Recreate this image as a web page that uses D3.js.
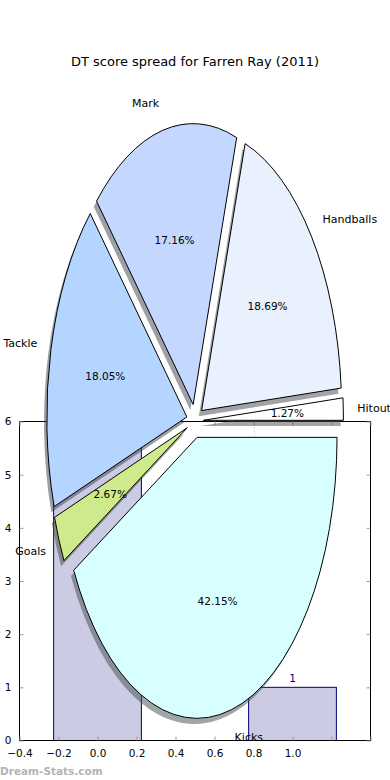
<!DOCTYPE html>
<html>
<head>
<meta charset="utf-8">
<script src="https://cdn.jsdelivr.net/npm/d3@7"></script>
<style>
  html, body { margin: 0; padding: 0; background: #fff; }
  svg { display: block; font-family: "DejaVu Sans", sans-serif; }
</style>
</head>
<body>
<svg id="chart" width="390" height="780"></svg>
<script>
// ---- data ----
const title = "DT score spread for Farren Ray (2011)";
const categories = ["Hitout", "Handballs", "Mark", "Tackle", "Goals", "Kicks"];
const shares = [1.27, 18.69, 17.16, 18.05, 2.67, 42.15];
const pieColors = ["#ffffff", "#e9f1ff", "#c4d8ff", "#b3d5ff", "#cfea8b", "#d8ffff"];
const barPositions = [0, 1];
const barValues = [6, 1];
const barValueLabels = ["6", "1"];
const xTickValues = [-0.4, -0.2, 0.0, 0.2, 0.4, 0.6, 0.8, 1.0, 1.2, 1.4];
const xTickLabels = ["\u22120.4", "\u22120.2", "0.0", "0.2", "0.4", "0.6", "0.8", "1.0", "", ""];
const yTickValues = [0, 1, 2, 3, 4, 5, 6];
const yTickLabels = ["0", "1", "2", "3", "4", "5", "6"];
const guideX = [0.8];
const watermark = "Dream-Stats.com";

// ---- layout ----
const svg = d3.select("#chart");
const ax = { left: 19.5, right: 370.5, top: 421.5, bottom: 740.5 };
const x = d3.scaleLinear().domain([-0.4, 1.4]).range([ax.left, ax.right]);
const y = d3.scaleLinear().domain([0, 6]).range([ax.bottom, ax.top]);
const barWidth = 0.45;

// ---- bar axes ----
const gBar = svg.append("g");
gBar.selectAll("rect.bar")
  .data(barPositions)
  .join("rect")
  .attr("class", "bar")
  .attr("x", d => x(d - barWidth / 2))
  .attr("y", (d, i) => y(barValues[i]))
  .attr("width", d => x(d + barWidth / 2) - x(d - barWidth / 2))
  .attr("height", (d, i) => y(0) - y(barValues[i]))
  .attr("fill", "#cbcbe3")
  .attr("stroke", "#000080")
  .attr("stroke-width", 1);

gBar.selectAll("line.guide")
  .data(guideX)
  .join("line")
  .attr("x1", d => Math.round(x(d)) + 0.5).attr("x2", d => Math.round(x(d)) + 0.5)
  .attr("y1", ax.top).attr("y2", ax.bottom)
  .attr("stroke", "#bdbdbd").attr("stroke-width", 1).attr("stroke-dasharray", "1,2");

gBar.selectAll("text.barval")
  .data(barPositions)
  .join("text")
  .attr("class", "barval")
  .attr("x", d => x(d))
  .attr("y", (d, i) => y(barValues[i]) - 5)
  .attr("text-anchor", "middle")
  .attr("font-size", 10.5)
  .attr("fill", "#000080")
  .text((d, i) => barValueLabels[i]);

// frame
gBar.append("rect")
  .attr("x", ax.left).attr("y", ax.top)
  .attr("width", ax.right - ax.left).attr("height", ax.bottom - ax.top)
  .attr("fill", "none").attr("stroke", "#000").attr("stroke-width", 1);

// axes with inward ticks
const xAxisB = d3.axisBottom(x).tickValues(xTickValues).tickSize(-4).tickPadding(9)
  .tickFormat((d, i) => xTickLabels[i]);
const xAxisT = d3.axisTop(x).tickValues(xTickValues).tickSize(-4).tickFormat("");
const yAxisL = d3.axisLeft(y).tickValues(yTickValues).tickSize(-4).tickPadding(8)
  .tickFormat((d, i) => yTickLabels[i]);
const yAxisR = d3.axisRight(y).tickValues(yTickValues).tickSize(-4).tickFormat("");

function styleAxis(g) {
  g.select(".domain").remove();
  g.selectAll(".tick line").attr("stroke", "#999").attr("stroke-width", 1);
  g.selectAll(".tick text").attr("font-size", 10.5).attr("fill", "#000")
    .attr("font-family", "DejaVu Sans, sans-serif");
}
gBar.append("g").attr("transform", `translate(0,${ax.bottom})`).call(xAxisB).call(styleAxis);
gBar.append("g").attr("transform", `translate(0,${ax.top})`).call(xAxisT).call(styleAxis);
gBar.append("g").attr("transform", `translate(${ax.left},0)`).call(yAxisL).call(styleAxis);
gBar.append("g").attr("transform", `translate(${ax.right},0)`).call(yAxisR).call(styleAxis);

// ---- pie (elliptical, exploded, shadowed) ----
const pieCx = 195, pieCy = 421, rx = 140, ry = 281;
const explode = 0.06, labelDist = 1.1, pctDist = 0.6;
const total = d3.sum(shares);

const pie = d3.pie().sort(null).value(d => d)
  .startAngle(Math.PI / 2).endAngle(Math.PI / 2 - 2 * Math.PI);
const arcs = pie(shares);
const arcGen = d3.arc().innerRadius(0).outerRadius(1);

function mid(a) { return (a.startAngle + a.endAngle) / 2; }
function offs(a, k) {
  const m = mid(a);
  return [k * rx * Math.sin(m), -k * ry * Math.cos(m)];
}

const gPie = svg.append("g");
// shadows first
gPie.selectAll("path.shadow")
  .data(arcs)
  .join("path")
  .attr("class", "shadow")
  .attr("d", arcGen)
  .attr("transform", a => {
    const [dx, dy] = offs(a, explode);
    return `translate(${pieCx + dx - 0.02 * rx},${pieCy + dy + 0.02 * ry}) scale(${rx},${ry})`;
  })
  .attr("fill", (a, i) => {
    const c = d3.rgb(pieColors[i]);
    return d3.rgb(c.r * 0.3, c.g * 0.3, c.b * 0.3).formatHex();
  })
  .attr("fill-opacity", 0.5)
  .attr("stroke", "none");

gPie.selectAll("path.wedge")
  .data(arcs)
  .join("path")
  .attr("class", "wedge")
  .attr("d", arcGen)
  .attr("transform", a => {
    const [dx, dy] = offs(a, explode);
    return `translate(${pieCx + dx},${pieCy + dy}) scale(${rx},${ry})`;
  })
  .attr("fill", (a, i) => pieColors[i])
  .attr("stroke", "#000")
  .attr("stroke-width", 1)
  .attr("vector-effect", "non-scaling-stroke");

gPie.selectAll("text.lbl")
  .data(arcs)
  .join("text")
  .attr("class", "lbl")
  .attr("x", a => pieCx + offs(a, explode + labelDist)[0])
  .attr("y", a => pieCy + offs(a, explode + labelDist)[1])
  .attr("dy", "0.35em")
  .attr("text-anchor", a => Math.sin(mid(a)) > 0 ? "start" : "end")
  .attr("font-size", 11)
  .attr("fill", "#000")
  .text((a, i) => categories[i]);

gPie.selectAll("text.pct")
  .data(arcs)
  .join("text")
  .attr("class", "pct")
  .attr("x", a => pieCx + offs(a, explode)[0] + offs(a, pctDist)[0])
  .attr("y", a => pieCy + offs(a, explode)[1] + offs(a, pctDist)[1])
  .attr("dy", "0.35em")
  .attr("text-anchor", "middle")
  .attr("font-size", 10.5)
  .attr("fill", "#000")
  .text(a => (a.value / total * 100).toFixed(2) + "%");

// ---- title & watermark ----
svg.append("text")
  .attr("x", 195).attr("y", 61).attr("dy", "0.35em")
  .attr("text-anchor", "middle")
  .attr("font-size", 13)
  .attr("fill", "#000")
  .text(title);

svg.append("text")
  .attr("x", 0).attr("y", 775)
  .attr("font-size", 10.5)
  .attr("font-weight", "bold")
  .attr("fill", "#b4b4b4")
  .text(watermark);
</script>
</body>
</html>
